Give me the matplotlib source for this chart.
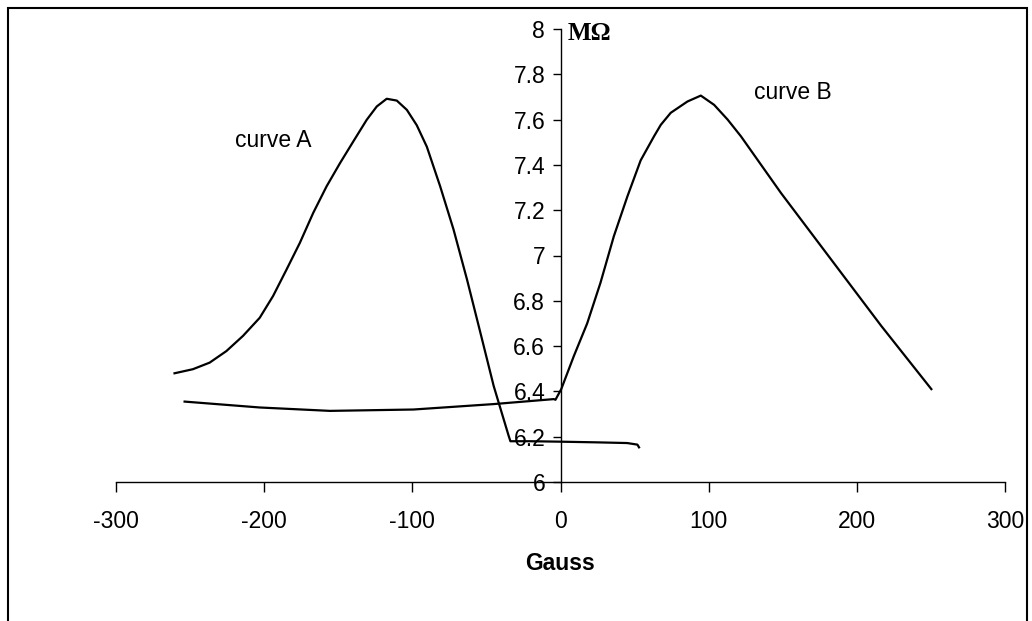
import numpy as np
import matplotlib
matplotlib.use("Agg")
from matplotlib import pyplot as plt
from matplotlib.patches import Rectangle

# curve A: rises to a peak, falls sharply, then flat tail
xA = [-260.5, -248.1, -236.8, -225.5, -214.3, -203, -194, -184.9, -175.9,
      -166.9, -157.9, -148.8, -139.8, -130.8, -124, -117.3, -110.5, -103.7,
      -97, -90.2, -81.2, -72.2, -63.1, -54.1, -45.1, -35, -33.8, -20.3, 0,
      24.8, 45, 51.9, 53]
yA = [6.480, 6.498, 6.527, 6.578, 6.645, 6.725, 6.821, 6.938, 7.056,
      7.188, 7.305, 7.408, 7.504, 7.599, 7.658, 7.692, 7.684, 7.643,
      7.575, 7.48, 7.305, 7.115, 6.894, 6.66, 6.424, 6.204, 6.18, 6.18, 6.178,
      6.175, 6.172, 6.165, 6.153]

# curve B: flat start, then peak, then near-linear decline
xB = [-253.7, -203, -155.6, -99.3, -45.1, -4.5, -3.4, 0.5, 9, 18, 27, 36,
      45.1, 54.1, 63.1, 67.7, 74.4, 85.7, 94.7, 103.7, 112.8, 121.8, 148.8,
      182.7, 216.5, 250.3]
yB = [6.355, 6.329, 6.314, 6.32, 6.344, 6.366, 6.363, 6.41, 6.556, 6.70,
      6.88, 7.085, 7.26, 7.42, 7.526, 7.577, 7.63, 7.68, 7.706, 7.665, 7.60,
      7.526, 7.276, 6.982, 6.689, 6.41]

xticks = [-300, -200, -100, 0, 100, 200, 300]
yticks = [6, 6.2, 6.4, 6.6, 6.8, 7, 7.2, 7.4, 7.6, 7.8, 8]
ylabels = ["6", "6.2", "6.4", "6.6", "6.8", "7", "7.2", "7.4", "7.6", "7.8", "8"]

plt.rcParams['font.family'] = ['Liberation Sans', 'DejaVu Sans']

fig = plt.figure(figsize=(10.32, 6.21), dpi=100)
ax = fig.add_axes([116/1032, 1 - 482/621, (1005 - 116)/1032, (482 - 29)/621])

ax.plot(xA, yA, color='black', lw=1.6)
ax.plot(xB, yB, color='black', lw=1.6)

ax.set_xlim(-300, 300)
ax.set_ylim(6, 8)
ax.spines['left'].set_position(('data', 0))
ax.spines['top'].set_visible(False)
ax.spines['right'].set_visible(False)
for s in ['left', 'bottom']:
    ax.spines[s].set_linewidth(1.0)

ax.set_xticks(xticks)
ax.set_xticklabels([str(t) for t in xticks], fontsize=16.5)
ax.set_yticks(yticks)
ax.set_yticklabels(ylabels, fontsize=16.5)
ax.tick_params(axis='x', direction='out', length=7, width=1, pad=13)
ax.tick_params(axis='y', direction='out', length=6, width=1, pad=5)

ax.set_xlabel('Gauss', fontsize=16.5, fontweight='bold', labelpad=14)

ax.text(4.7, 7.98, 'M\u03a9', fontsize=18, fontweight='bold',
        family='Liberation Serif', ha='left', va='center')
ax.text(-194, 7.507, 'curve A', fontsize=16.5, ha='center', va='center')
ax.text(157, 7.72, 'curve B', fontsize=16.5, ha='center', va='center')

# outer frame (open at the bottom)
fig.patches.append(Rectangle((8/1032, -0.05), (1027 - 8)/1032, 1.05 - 8/621,
                             transform=fig.transFigure, fill=False,
                             edgecolor='black', lw=1.5))

fig.savefig('out.png', dpi=100)
